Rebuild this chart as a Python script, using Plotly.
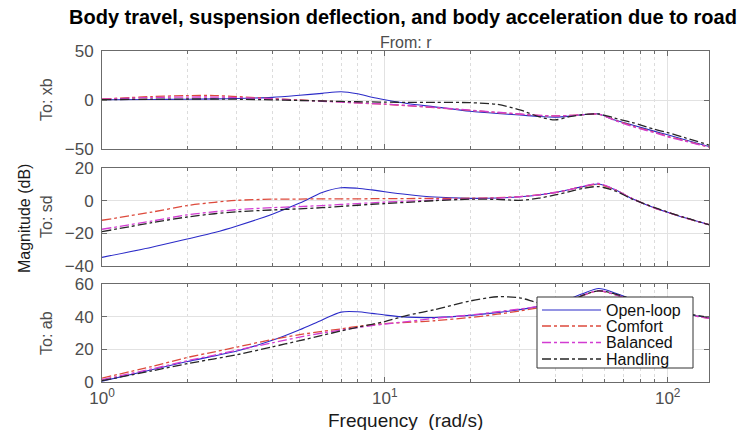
import plotly.graph_objects as go

# ---------------- data ----------------
freq = [1, 1.5, 2, 2.5, 3, 4, 5, 6, 7, 8, 9, 10, 12, 15, 20, 25, 30, 35, 40, 45,
        50, 57, 65, 75, 90, 100, 115, 140]

series_names = ["Open-loop", "Comfort", "Balanced", "Handling"]

# To: xb  (body travel, dB)
xb_open = [0.3, 0.5, 0.8, 1.1, 1.5, 2.7, 4.8, 6.8, 8.4, 6.3, 2.8, 0.3, -3.5, -7.0, -11.5, -13.8,
           -15.3, -16.8, -17.5, -16.5, -15.0, -14.3, -20.5, -25.5, -32.0, -35.5, -40.5, -47.5]
xb_comfort = [1.0, 3.5, 4.5, 4.5, 3.5, 1.5, 0.0, -1.0, -2.0, -3.0, -3.7, -4.3, -5.8, -7.8, -10.5, -12.8,
              -14.5, -15.8, -16.3, -15.8, -15.0, -14.5, -20.5, -26.5, -33.0, -37.0, -41.5, -48.0]
xb_balanced = [0.8, 2.5, 3.0, 3.0, 2.5, 1.0, -0.3, -1.3, -2.2, -3.0, -3.6, -4.2, -5.6, -7.6, -10.3, -12.5,
               -14.3, -15.6, -16.2, -15.7, -15.0, -14.5, -20.8, -27.0, -33.5, -37.5, -42.0, -48.0]
xb_handling = [0.3, 0.8, 1.0, 1.0, 0.8, 0.2, -0.5, -1.0, -1.5, -1.8, -2.0, -2.2, -2.4, -2.5, -2.7, -4.5,
               -10.0, -17.0, -20.3, -17.0, -15.0, -14.3, -18.5, -23.0, -30.0, -33.3, -38.5, -46.0]

# To: sd  (suspension deflection, dB)
sd_open = [-34.7, -28.5, -23.5, -19.5, -15.5, -8.3, -1.5, 5.0, 7.9, 7.6, 6.6, 5.5, 3.8, 2.2, 1.4, 1.6,
           2.4, 3.5, 5.0, 6.8, 8.6, 10.2, 6.8, 1.2, -4.5, -7.1, -10.5, -14.7]
sd_comfort = [-12.0, -7.0, -3.0, -1.0, 0.2, 0.9, 1.0, 1.1, 1.1, 1.1, 1.2, 1.2, 1.3, 1.4, 1.5, 1.8,
              2.5, 3.6, 5.0, 6.8, 8.6, 10.0, 6.8, 1.2, -4.5, -7.1, -10.5, -14.7]
sd_balanced = [-17.5, -12.5, -8.7, -6.8, -5.5, -4.3, -3.6, -3.0, -2.3, -1.8, -1.3, -0.9, -0.3, 0.4, 1.2, 1.6,
               2.4, 3.6, 5.0, 6.8, 8.8, 10.5, 6.8, 1.2, -4.5, -7.1, -10.5, -14.7]
sd_handling = [-19.0, -13.5, -10.0, -8.0, -6.8, -5.7, -5.0, -4.3, -3.5, -2.8, -2.2, -1.8, -1.0, 0.0, 0.9, 0.8,
               0.2, 1.5, 3.5, 5.5, 7.5, 8.6, 6.0, 1.0, -4.3, -7.0, -10.4, -14.7]

# To: ab  (body acceleration, dB)
ab_open = [0.5, 7.5, 12.5, 16.0, 19.0, 25.5, 32.0, 38.0, 42.8, 43.0, 42.0, 41.0, 39.7, 39.5, 40.8, 42.5,
           44.3, 46.3, 48.4, 51.0, 54.0, 57.2, 54.5, 50.5, 46.0, 44.0, 41.5, 39.5]
ab_comfort = [2.4, 9.5, 15.0, 18.5, 21.4, 26.0, 29.0, 31.0, 32.5, 34.0, 35.0, 35.8, 36.5, 37.5, 39.5, 41.5,
              43.5, 45.5, 47.5, 50.0, 53.0, 55.8, 53.5, 50.0, 45.5, 43.5, 41.5, 39.0]
ab_balanced = [1.4, 8.0, 13.0, 16.5, 19.5, 24.0, 27.5, 30.0, 31.8, 33.3, 34.5, 35.5, 37.0, 39.0, 41.0, 43.0,
               44.7, 46.3, 48.0, 50.5, 53.0, 56.0, 53.5, 50.0, 45.5, 43.5, 41.5, 39.0]
ab_handling = [0.8, 6.8, 11.2, 14.2, 16.7, 21.5, 25.3, 28.5, 31.3, 33.5, 35.3, 37.0, 40.8, 44.3, 49.6, 52.2,
               51.5, 48.5, 47.5, 49.5, 53.0, 55.8, 54.0, 50.5, 46.0, 44.0, 42.0, 39.5]

panels = [
    ("To: xb", [xb_open, xb_comfort, xb_balanced, xb_handling], [-50, 0, 50]),
    ("To: sd", [sd_open, sd_comfort, sd_balanced, sd_handling], [-40, -20, 0, 20]),
    ("To: ab", [ab_open, ab_comfort, ab_balanced, ab_handling], [0, 20, 40, 60]),
]

x_major = [1, 10, 100]
x_major_text = ["10<sup>0</sup>", "10<sup>1</sup>", "10<sup>2</sup>"]
x_minor = [2, 3, 4, 5, 6, 7, 8, 9, 20, 30, 40, 50, 60, 70, 80, 90]

# ---------------- styles ----------------
colors = ["#2b2bc8", "#dd4a3c", "#d23cd2", "#262626"]
dashes = ["solid", "dashdot", "dashdot", "dashdot"]
widths = [1.1, 1.3, 1.3, 1.3]

FONT = "Liberation Sans, Arial, sans-serif"
TICKC = "#4d4d4d"
LINEC = "#6b6b6b"

W, H = 755, 430
L, R, T, B = 102, 46, 51, 48
ph = H - T - B
pw = W - L - R
pix = [(51, 149), (168, 266), (284, 382)]


def py(p):
    return (H - B - p) / ph


def px(p):
    return (p - L) / pw


fig = go.Figure()

for i, (label, data, yt) in enumerate(panels):
    n = i + 1
    xa = "x" if n == 1 else f"x{n}"
    ya = "y" if n == 1 else f"y{n}"
    for k in range(4):
        fig.add_trace(go.Scatter(
            x=freq, y=data[k], mode="lines", name=series_names[k],
            line=dict(color=colors[k], dash=dashes[k], width=widths[k], shape="spline", smoothing=0.8),
            showlegend=False, xaxis=xa, yaxis=ya,
        ))
    top, bot = pix[i]
    xkey = "xaxis" if n == 1 else f"xaxis{n}"
    ykey = "yaxis" if n == 1 else f"yaxis{n}"
    fig.update_layout(**{
        xkey: dict(
            type="log", range=[0, 2.146], domain=[0, 1], anchor=ya,
            tickvals=x_major, ticktext=x_major_text, showticklabels=(n == 3),
            ticks="inside", ticklen=5, tickcolor=LINEC, ticklabelstandoff=1,
            showgrid=True, gridcolor="#e2e2e2", gridwidth=1,
            showline=True, linecolor=LINEC, linewidth=1, mirror="ticks",
            minor=dict(tickvals=x_minor, ticks="inside", ticklen=3, tickcolor=LINEC,
                       showgrid=True, gridcolor="#dcdcdc", griddash="dot", gridwidth=1),
            tickfont=dict(family=FONT, size=17, color=TICKC),
            zeroline=False,
            **({} if n == 3 else {"matches": "x3"}),
        ),
        ykey: dict(
            range=[yt[0], yt[-1]], domain=[py(bot), py(top)], anchor=xa,
            tickvals=yt, ticks="inside", ticklen=5, tickcolor=LINEC, ticklabelstandoff=4,
            showgrid=True, gridcolor="#e2e2e2", gridwidth=1,
            showline=True, linecolor=LINEC, linewidth=1, mirror="ticks",
            tickfont=dict(family=FONT, size=17, color=TICKC),
            zeroline=False,
        ),
    })
    ymid = (py(bot) + py(top)) / 2
    fig.add_annotation(text=label, xref="paper", yref="paper", x=px(46), y=ymid,
                       textangle=-90, showarrow=False, xanchor="center", yanchor="middle",
                       font=dict(family=FONT, size=16, color=TICKC))

fig.add_annotation(text="<b>Body travel, suspension deflection, and body acceleration due to road</b>",
                   xref="paper", yref="paper", x=px(403), y=py(17), showarrow=False,
                   xanchor="center", yanchor="middle",
                   font=dict(family=FONT, size=20, color="#000000"))
fig.add_annotation(text="From: r", xref="paper", yref="paper", x=0.5, y=py(43), showarrow=False,
                   xanchor="center", yanchor="middle", font=dict(family=FONT, size=16, color=TICKC))
fig.add_annotation(text="Magnitude (dB)", xref="paper", yref="paper", x=px(24), y=py(219),
                   textangle=-90, showarrow=False, xanchor="center", yanchor="middle",
                   font=dict(family=FONT, size=16, color="#1a1a1a"))
fig.add_annotation(text="Frequency  (rad/s)", xref="paper", yref="paper", x=0.5, y=py(420),
                   showarrow=False, xanchor="center", yanchor="middle",
                   font=dict(family=FONT, size=19, color="#1a1a1a"))

# ---------------- legend box (MATLAB style, drawn in paper space) ----------------
leg_x0, leg_x1, leg_y0, leg_y1 = 537, 693, 297, 368
row_y = [310, 326, 342.5, 359]
fig.add_shape(type="rect", xref="paper", yref="paper",
              x0=px(leg_x0), x1=px(leg_x1), y0=py(leg_y1), y1=py(leg_y0),
              line=dict(color="#333333", width=1), fillcolor="white", layer="above")
for k in range(4):
    fig.add_shape(type="line", xref="paper", yref="paper",
                  x0=px(542), x1=px(601), y0=py(row_y[k]), y1=py(row_y[k]),
                  line=dict(color=colors[k], dash=dashes[k], width=widths[k]), layer="above")
    fig.add_annotation(text=series_names[k], xref="paper", yref="paper",
                       x=px(604), y=py(row_y[k]), showarrow=False, xanchor="left", yanchor="middle",
                       font=dict(family=FONT, size=16, color="#111111"))

fig.update_layout(
    width=W, height=H,
    margin=dict(l=L, r=R, t=T, b=B),
    paper_bgcolor="white", plot_bgcolor="white",
    showlegend=False,
)

fig.write_html("out.html")
